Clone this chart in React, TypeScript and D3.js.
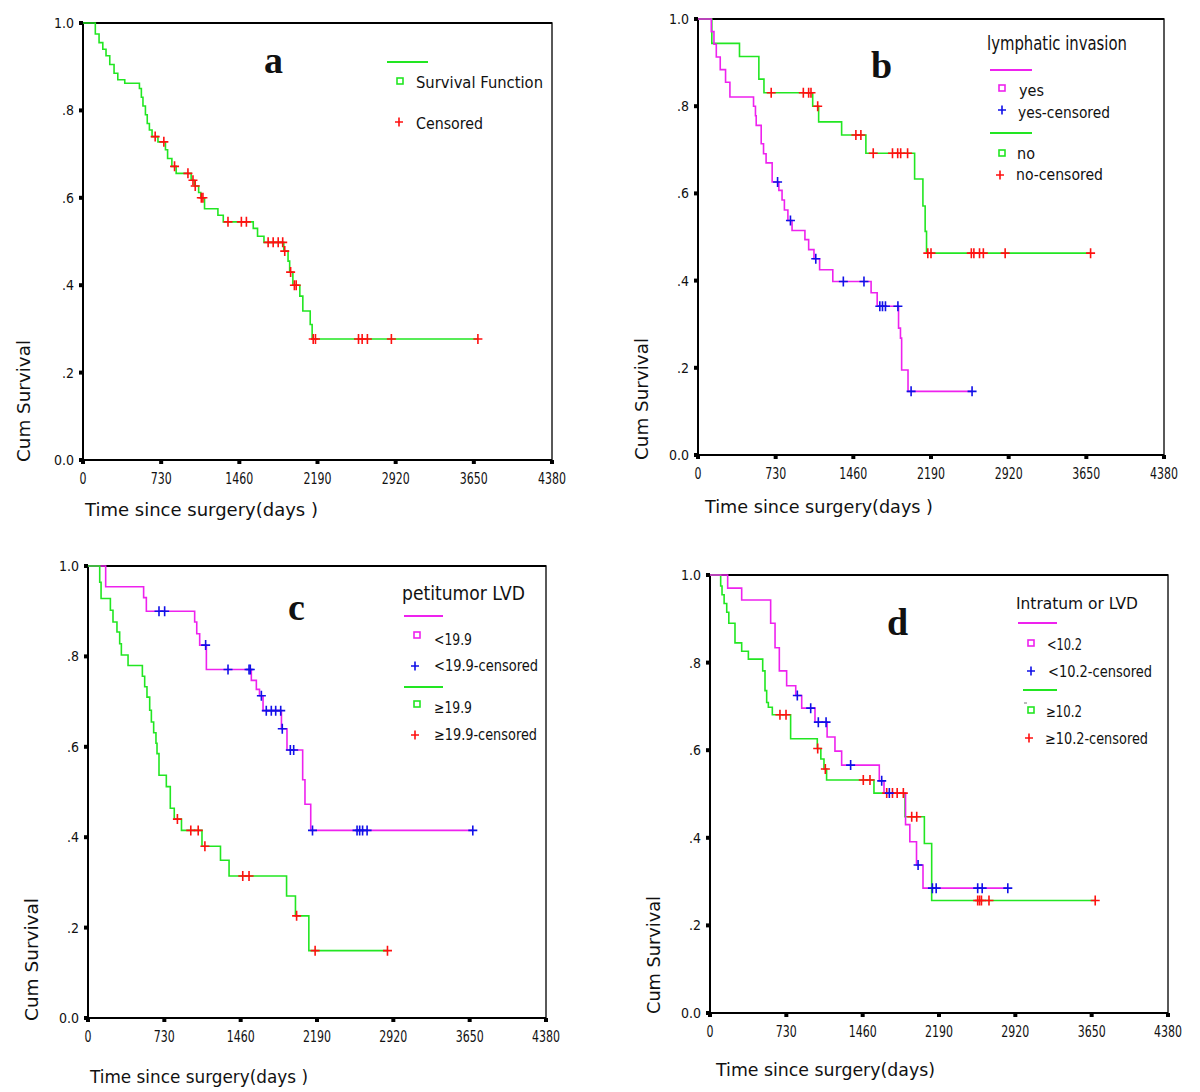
import React from "react";
import * as d3 from "d3";

type Pt = [number, number];

// ---------- shared axis data ----------
const xTickValues = [0, 730, 1460, 2190, 2920, 3650, 4380];
const yTickValues = [0, 0.2, 0.4, 0.6, 0.8, 1.0];
const yTickLabels = ["0.0", ".2", ".4", ".6", ".8", "1.0"];
const yTitle = "Cum Survival";

// ---------- panel a ----------
const aSurvival: Pt[] = [
  [0, 1], [115, 0.975], [150, 0.955], [185, 0.94], [215, 0.925], [250, 0.905], [290, 0.885], [325, 0.87],
  [390, 0.862], [527, 0.85], [545, 0.83], [560, 0.81], [583, 0.79], [600, 0.77], [620, 0.755], [645, 0.74],
  [700, 0.728], [770, 0.71], [790, 0.69], [830, 0.672], [870, 0.656], [1010, 0.64], [1040, 0.627],
  [1080, 0.612], [1100, 0.6], [1135, 0.575], [1260, 0.56], [1310, 0.545], [1590, 0.53], [1630, 0.512],
  [1690, 0.498], [1875, 0.478], [1915, 0.455], [1930, 0.43], [1960, 0.4], [2025, 0.375], [2053, 0.341],
  [2122, 0.31], [2140, 0.277], [3690, 0.277],
];
const aCensored = [674, 755, 855, 980, 1027, 1048, 1105, 1120, 1354, 1479, 1526, 1729, 1776, 1823, 1865,
  1884, 1939, 1974, 1991, 2150, 2171, 2573, 2607, 2656, 2880, 3688];

// ---------- panel b: lymphatic invasion ----------
const bYesSurvival: Pt[] = [
  [0, 1], [125, 0.971], [150, 0.942], [172, 0.913], [209, 0.884], [259, 0.855], [300, 0.821], [522, 0.8],
  [540, 0.778], [547, 0.756], [594, 0.714], [616, 0.691], [640, 0.67], [697, 0.626], [760, 0.607],
  [790, 0.585], [812, 0.562], [845, 0.538], [884, 0.515], [1005, 0.494], [1040, 0.471], [1090, 0.45],
  [1143, 0.425], [1267, 0.398], [1627, 0.372], [1684, 0.341], [1885, 0.291], [1903, 0.268], [1914, 0.195],
  [1974, 0.146], [2576, 0.146],
];
const bYesCensored = [748, 869, 1107, 1366, 1560, 1709, 1734, 1762, 1879, 2003, 2576];
const bNoSurvival: Pt[] = [
  [0, 1], [130, 0.944], [390, 0.914], [572, 0.862], [620, 0.831], [1078, 0.8], [1134, 0.764], [1350, 0.734],
  [1578, 0.692], [2036, 0.633], [2114, 0.571], [2135, 0.513], [2148, 0.463], [3690, 0.463],
];
const bNoCensored = [688, 990, 1040, 1062, 1125, 1484, 1531, 1647, 1828, 1877, 1905, 1970, 2160, 2190,
  2569, 2593, 2646, 2682, 2887, 3690];

// ---------- panel c: petitumor LVD ----------
const cLowSurvival: Pt[] = [
  [0, 1], [169, 0.954], [532, 0.93], [558, 0.9], [1020, 0.876], [1040, 0.85], [1068, 0.825], [1132, 0.771],
  [1562, 0.747], [1610, 0.727], [1640, 0.713], [1674, 0.68], [1850, 0.64], [1903, 0.593], [2053, 0.527],
  [2075, 0.473], [2130, 0.415], [3680, 0.415],
];
const cLowCensored = [679, 733, 1125, 1339, 1540, 1552, 1658, 1705, 1753, 1795, 1843, 1858, 1935, 1967,
  2147, 2573, 2598, 2626, 2669, 3680];
const cHighSurvival: Pt[] = [
  [0, 1], [112, 0.964], [125, 0.928], [214, 0.902], [239, 0.876], [277, 0.854], [303, 0.828], [319, 0.803],
  [383, 0.78], [520, 0.756], [542, 0.733], [564, 0.71], [590, 0.681], [606, 0.655], [628, 0.631],
  [650, 0.608], [660, 0.585], [679, 0.537], [749, 0.512], [787, 0.464], [825, 0.44], [894, 0.415],
  [1090, 0.38], [1267, 0.349], [1349, 0.314], [1899, 0.27], [1984, 0.226], [2112, 0.149], [2864, 0.149],
];
const cHighCensored = [855, 983, 1054, 1118, 1480, 1540, 1995, 2172, 2864];

// ---------- panel d: Intratumor LVD ----------
const dLowSurvival: Pt[] = [
  [0, 1], [169, 0.97], [303, 0.943], [580, 0.89], [622, 0.834], [663, 0.781], [733, 0.747], [820, 0.725],
  [877, 0.696], [1004, 0.664], [1120, 0.63], [1195, 0.598], [1259, 0.566], [1619, 0.53], [1664, 0.502],
  [1870, 0.43], [1911, 0.391], [1975, 0.338], [2037, 0.285], [2848, 0.285],
];
const dLowCensored = [835, 963, 1036, 1110, 1345, 1642, 1715, 1990, 2127, 2163, 2560, 2603, 2848];
const dHighSurvival: Pt[] = [
  [0, 1], [102, 0.975], [115, 0.955], [135, 0.935], [160, 0.915], [180, 0.89], [239, 0.845], [303, 0.826],
  [367, 0.808], [504, 0.781], [526, 0.736], [542, 0.709], [558, 0.698], [596, 0.681], [771, 0.626],
  [1026, 0.604], [1060, 0.58], [1090, 0.557], [1115, 0.532], [1568, 0.502], [1865, 0.448], [2050, 0.387],
  [2120, 0.257], [3684, 0.257],
];
const dHighCensored = [669, 727, 1030, 1103, 1466, 1530, 1690, 1745, 1790, 1849, 1929, 1977, 2560, 2578,
  2596, 2668, 3684];

// ---------- styling ----------
const GREEN = "#22e622";
const PINK = "#ee22ee";
const RED = "#ff1010";
const BLUE = "#1010e8";
const SANS = "'DejaVu Sans', Verdana, sans-serif";
const SERIF = "'Liberation Serif', 'DejaVu Serif', serif";

type Frame = { x0: number; x1: number; y0: number; y1: number };
type Series = { steps: Pt[]; censored: number[]; color: string; censorColor: string };

function survivalAt(steps: Pt[], t: number) {
  let s = 1;
  for (const [d, v] of steps) if (d <= t) s = v;
  return s;
}

const plusPath = (cx: number, cy: number, h = 4.5, v = 5) =>
  `M${cx - h},${cy}H${cx + h}M${cx},${cy - v}V${cy + v}`;

function T(props: {
  x: number; y: number; w?: number; size: number; anchor?: string; family?: string;
  weight?: string | number; children: React.ReactNode; transform?: string;
}) {
  const { x, y, w, size, anchor = "start", family = SANS, weight = "normal", children, transform } = props;
  return (
    <text
      x={x}
      y={y}
      fontSize={size}
      fontFamily={family}
      fontWeight={weight}
      textAnchor={anchor}
      fill="#111"
      transform={transform}
      {...(w ? { textLength: w, lengthAdjust: "spacingAndGlyphs" } : {})}
    >
      {children}
    </text>
  );
}

function Panel(props: {
  f: Frame;
  series: Series[];
  letter: string;
  letterPos: [number, number];
  xTitle: string;
  xTitlePos: [number, number, number];
  yTitlePos: [number, number, number];
  children?: React.ReactNode;
}) {
  const { f, series, letter, letterPos, xTitle, xTitlePos, yTitlePos, children } = props;
  const x = d3.scaleLinear().domain([0, 4380]).range([f.x0, f.x1]);
  const y = d3.scaleLinear().domain([0, 1]).range([f.y1, f.y0]);
  const line = d3
    .line<Pt>()
    .x((d) => x(d[0]))
    .y((d) => y(d[1]))
    .curve(d3.curveStepAfter);
  return (
    <g>
      {/* frame */}
      <rect x={f.x0} y={f.y0} width={f.x1 - f.x0} height={f.y1 - f.y0} fill="none" stroke="#222" strokeWidth={1.5} />
      <line x1={f.x0} x2={f.x1} y1={f.y0} y2={f.y0} stroke="#000" strokeWidth={2} />
      <line x1={f.x0} x2={f.x0} y1={f.y0} y2={f.y1} stroke="#000" strokeWidth={2} />
      <line x1={f.x0} x2={f.x1} y1={f.y1} y2={f.y1} stroke="#000" strokeWidth={2} />
      {/* curves */}
      {series.map((s, i) => (
        <path key={"l" + i} d={line(s.steps) || ""} fill="none" stroke={s.color} strokeWidth={1.6} />
      ))}
      {series.map((s, i) =>
        s.censored.map((t, j) => (
          <path
            key={"c" + i + "-" + j}
            d={plusPath(x(t), y(survivalAt(s.steps, t)))}
            stroke={s.censorColor}
            strokeWidth={1.6}
            fill="none"
          />
        ))
      )}
      {/* y ticks */}
      {yTickValues.map((v, i) => (
        <g key={"yt" + i}>
          <rect x={f.x0 - 4} y={y(v) - 2} width={4} height={4} fill="#000" />
          <T x={f.x0 - 9} y={y(v) + 5} size={14} anchor="end" w={yTickLabels[i].length === 2 ? 12 : 20}>
            {yTickLabels[i]}
          </T>
        </g>
      ))}
      {/* x ticks */}
      {xTickValues.map((v, i) => (
        <g key={"xt" + i}>
          <rect x={x(v) - 2} y={f.y1} width={4} height={4} fill="#000" />
          <T x={x(v)} y={f.y1 + 24} size={15} anchor="middle" w={String(v).length * 7}>
            {String(v)}
          </T>
        </g>
      ))}
      {/* titles */}
      <T x={xTitlePos[0]} y={xTitlePos[1]} w={xTitlePos[2]} size={18}>
        {xTitle}
      </T>
      <T
        x={yTitlePos[0]}
        y={yTitlePos[1]}
        w={yTitlePos[2]}
        size={18}
        transform={`rotate(-90 ${yTitlePos[0]} ${yTitlePos[1]})`}
      >
        {yTitle}
      </T>
      <T x={letterPos[0]} y={letterPos[1]} size={38} family={SERIF} weight="bold">
        {letter}
      </T>
      {children}
    </g>
  );
}

const LegLine = ({ x1, x2, y, color }: { x1: number; x2: number; y: number; color: string }) => (
  <line x1={x1} x2={x2} y1={y} y2={y} stroke={color} strokeWidth={2} />
);
const LegSquare = ({ cx, cy, color }: { cx: number; cy: number; color: string }) => (
  <rect x={cx - 3} y={cy - 3} width={6} height={6} fill="none" stroke={color} strokeWidth={1.6} />
);
const LegPlus = ({ cx, cy, color }: { cx: number; cy: number; color: string }) => (
  <path d={plusPath(cx, cy, 4, 4.5)} stroke={color} strokeWidth={1.6} fill="none" />
);

export default function App() {
  const A: Frame = { x0: 83, x1: 552, y0: 23, y1: 460 };
  const B: Frame = { x0: 698, x1: 1164, y0: 19, y1: 455 };
  const C: Frame = { x0: 88, x1: 546, y0: 566, y1: 1018 };
  const D: Frame = { x0: 710, x1: 1168, y0: 575, y1: 1013 };
  return (
    <svg
      width={1200}
      height={1092}
      viewBox="0 0 1200 1092"
      style={{ position: "absolute", left: 0, top: 0, background: "#fff" }}
    >
      <rect x={0} y={0} width={1200} height={1092} fill="#fff" />
      {/* a */}
      <Panel
        f={A}
        series={[{ steps: aSurvival, censored: aCensored, color: GREEN, censorColor: RED }]}
        letter="a"
        letterPos={[264, 73]}
        xTitle="Time since surgery(days )"
        xTitlePos={[85, 516, 233]}
        yTitlePos={[30, 462, 122]}
      >
        <LegLine x1={387} x2={428} y={62} color={GREEN} />
        <LegSquare cx={400} cy={81} color={GREEN} />
        <T x={416} y={88} size={16} w={127}>Survival Function</T>
        <LegPlus cx={399} cy={122} color={RED} />
        <T x={416} y={129} size={16} w={67}>Censored</T>
      </Panel>
      {/* b */}
      <Panel
        f={B}
        series={[
          { steps: bNoSurvival, censored: bNoCensored, color: GREEN, censorColor: RED },
          { steps: bYesSurvival, censored: bYesCensored, color: PINK, censorColor: BLUE },
        ]}
        letter="b"
        letterPos={[871, 78]}
        xTitle="Time since surgery(days )"
        xTitlePos={[705, 513, 228]}
        yTitlePos={[648, 460, 122]}
      >
        <T x={987} y={50} size={19} w={140}>lymphatic invasion</T>
        <LegLine x1={990} x2={1032} y={70} color={PINK} />
        <LegSquare cx={1002} cy={88} color={PINK} />
        <T x={1019} y={96} size={15} w={25}>yes</T>
        <LegPlus cx={1002} cy={110} color={BLUE} />
        <T x={1018} y={118} size={15} w={92}>yes-censored</T>
        <LegLine x1={990} x2={1032} y={133} color={GREEN} />
        <LegSquare cx={1002} cy={153} color={GREEN} />
        <T x={1017} y={159} size={15} w={18}>no</T>
        <LegPlus cx={1000} cy={175} color={RED} />
        <T x={1016} y={180} size={15} w={87}>no-censored</T>
      </Panel>
      {/* c */}
      <Panel
        f={C}
        series={[
          { steps: cLowSurvival, censored: cLowCensored, color: PINK, censorColor: BLUE },
          { steps: cHighSurvival, censored: cHighCensored, color: GREEN, censorColor: RED },
        ]}
        letter="c"
        letterPos={[288, 620]}
        xTitle="Time since surgery(days )"
        xTitlePos={[90, 1083, 218]}
        yTitlePos={[38, 1021, 123]}
      >
        <T x={402} y={600} size={19} w={123}>petitumor LVD</T>
        <LegLine x1={404} x2={443} y={616} color={PINK} />
        <LegSquare cx={417} cy={635} color={PINK} />
        <T x={434} y={645} size={15} w={38}>&lt;19.9</T>
        <LegPlus cx={415} cy={666} color={BLUE} />
        <T x={434} y={671} size={15} w={104}>&lt;19.9-censored</T>
        <LegLine x1={404} x2={443} y={687} color={GREEN} />
        <LegSquare cx={417} cy={704} color={GREEN} />
        <T x={434} y={713} size={15} w={38}>≥19.9</T>
        <LegPlus cx={415} cy={735} color={RED} />
        <T x={434} y={740} size={15} w={103}>≥19.9-censored</T>
      </Panel>
      {/* d */}
      <Panel
        f={D}
        series={[
          { steps: dHighSurvival, censored: dHighCensored, color: GREEN, censorColor: RED },
          { steps: dLowSurvival, censored: dLowCensored, color: PINK, censorColor: BLUE },
        ]}
        letter="d"
        letterPos={[887, 635]}
        xTitle="Time since surgery(days)"
        xTitlePos={[716, 1076, 219]}
        yTitlePos={[660, 1014, 118]}
      >
        <T x={1016} y={609} size={16} w={122}>Intratum or LVD</T>
        <LegLine x1={1018} x2={1057} y={623} color={PINK} />
        <LegSquare cx={1031} cy={643} color={PINK} />
        <T x={1047} y={650} size={15} w={35}>&lt;10.2</T>
        <LegPlus cx={1031} cy={671} color={BLUE} />
        <T x={1048} y={677} size={15} w={104}>&lt;10.2-censored</T>
        <LegLine x1={1023} x2={1057} y={690} color={GREEN} />
        <line x1={1024} x2={1027} y1={703} y2={703} stroke="#777" strokeWidth={1} />
        <LegSquare cx={1031} cy={710} color={GREEN} />
        <T x={1046} y={717} size={15} w={36}>≥10.2</T>
        <LegPlus cx={1029} cy={738} color={RED} />
        <T x={1045} y={744} size={15} w={103}>≥10.2-censored</T>
      </Panel>
    </svg>
  );
}
